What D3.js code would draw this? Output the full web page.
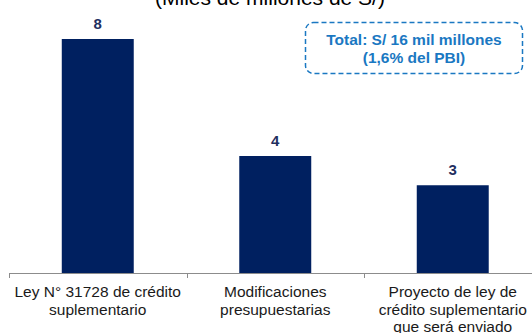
<!DOCTYPE html>
<html><head><meta charset="utf-8">
<script src="https://cdn.jsdelivr.net/npm/d3@7"></script>
<style>body{margin:0;background:#fff}svg{display:block;font-family:"Liberation Sans",Arial,sans-serif}</style>
</head><body>
<svg id="c" width="532" height="333"></svg>
<script>
const categories = [
  ["Ley N° 31728 de crédito", "suplementario"],
  ["Modificaciones", "presupuestarias"],
  ["Proyecto de ley de", "crédito suplementario", "que será enviado"]
];
const values = [8, 4, 3];
const title = "(Miles de millones de S/)";
const totalNote = ["Total: S/ 16 mil millones", "(1,6% del PBI)"];

const svg = d3.select("#c");
const keys = categories.map((d,i)=>i);
const x = d3.scaleBand().domain(keys).range([9, 541.5]).paddingInner(0.5945).paddingOuter(0.2973);
const xb = d3.scaleBand().domain(keys).range([9, 541.5]).padding(0);
const y = d3.scaleLinear().domain([0, 8]).range([273, 39]);

svg.append("text").attr("x", 270).attr("y", 5).attr("text-anchor","middle")
  .attr("font-size", 21).attr("fill","#000").text(title);

svg.selectAll("rect.bar").data(values).join("rect").attr("class","bar")
  .attr("x",(d,i)=>x(i)).attr("width",x.bandwidth())
  .attr("y",d=>y(d)).attr("height",d=>y(0)-y(d)).attr("fill","#002060");

svg.selectAll("text.val").data(values).join("text").attr("class","val")
  .attr("x",(d,i)=>x(i)+x.bandwidth()/2).attr("y",d=>y(d)-10)
  .attr("text-anchor","middle").attr("font-size",15).attr("font-weight","bold")
  .attr("fill","#1f2f5f").text(d=>d);

// axis
svg.append("line").attr("x1",9).attr("x2",532).attr("y1",273.5).attr("y2",273.5)
  .attr("stroke","#8c8c8c").attr("stroke-width",1);
const tickPos = keys.map(k=>xb(k)).concat([xb(keys[keys.length-1])+xb.bandwidth()]);
svg.selectAll("line.tk").data(tickPos).join("line").attr("class","tk")
  .attr("x1",d=>Math.round(d)+0.5).attr("x2",d=>Math.round(d)+0.5)
  .attr("y1",273).attr("y2",278).attr("stroke","#8c8c8c");

const lab = svg.selectAll("text.cat").data(categories).join("text").attr("class","cat")
  .attr("text-anchor","middle").attr("font-size",15.5).attr("fill","#1a1a1a");
lab.each(function(d,i){
  const t = d3.select(this);
  d.forEach((line,j)=>{
    t.append("tspan").attr("x", xb(i)+xb.bandwidth()/2).attr("y", 297 + j*17.7).text(line);
  });
});

// total box
svg.append("rect").attr("x",305.5).attr("y",22.5).attr("width",217).attr("height",51)
  .attr("rx",8).attr("fill","none").attr("stroke","#1a78c2").attr("stroke-width",1.5)
  .attr("stroke-dasharray","5,3");
svg.selectAll("text.tot").data(totalNote).join("text").attr("class","tot")
  .attr("x",414).attr("y",(d,i)=>45+i*17.5).attr("text-anchor","middle")
  .attr("font-size",15.5).attr("font-weight","bold").attr("fill","#1a78c2").text(d=>d);
</script>
</body></html>
